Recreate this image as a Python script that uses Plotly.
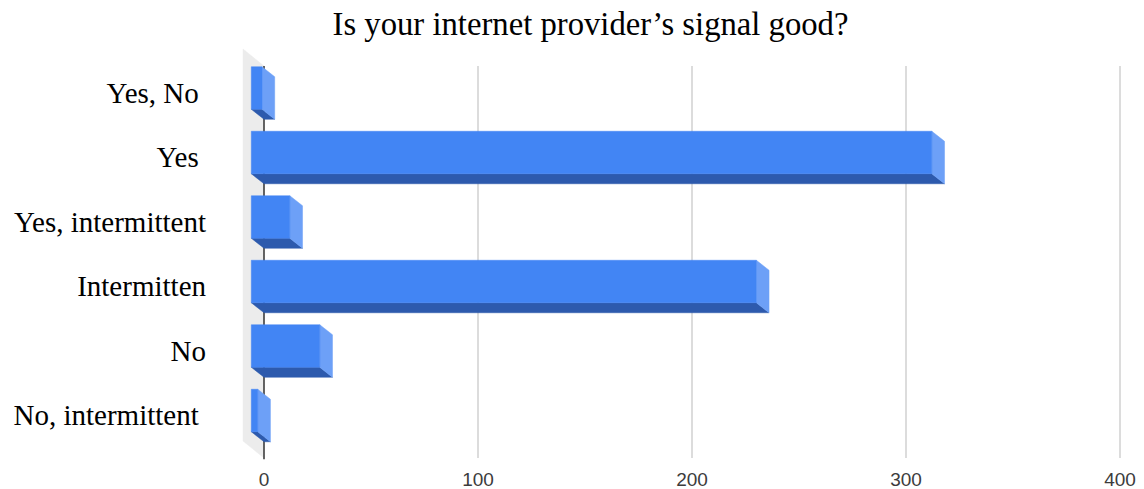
import plotly.graph_objects as go

# ---- data ----
categories = ["Yes, No ", "Yes ", "Yes, intermittent", "Intermitten", "No", "No, intermittent "]
values = [5, 318, 18, 236, 32, 3]
x_ticks = [0, 100, 200, 300, 400]
title_text = "Is your internet provider\u2019s signal good?"

# ---- style / geometry (3D look) ----
W, H = 1144, 489
PX_PER_UNIT = 2.14          # horizontal pixels per value unit
PX_PER_CAT = 64.5           # vertical pixels per category
DX = 12.7 / PX_PER_UNIT     # depth offset in value units
DY = 10.0 / PX_PER_CAT      # depth offset in category units
BAR_H = 42.5 / PX_PER_CAT   # bar thickness in category units
WALL_DX = 21.0 / PX_PER_UNIT
WALL_DY = 17.0 / PX_PER_CAT

FRONT = "#4285f4"
SIDE = "#6da0f7"
BOTTOM = "#2d5aad"
WALL = "#ececec"
GRID = "#d0d0d0"
AXIS = "#333333"

n = len(categories)
X0 = 264    # pixel x of value 0
Y0 = 98     # pixel y of first category (back face centre)
y_top_axis = (66 - Y0) / PX_PER_CAT
y_bot_axis = (458 - Y0) / PX_PER_CAT

fig = go.Figure()

def poly(xs, ys, color):
    fig.add_trace(go.Scatter(
        x=list(xs) + [xs[0]], y=list(ys) + [ys[0]],
        mode="lines", fill="toself", fillcolor=color,
        line=dict(color=color, width=0.5), hoverinfo="skip", showlegend=False))

# left wall
poly([-WALL_DX, 0, 0, -WALL_DX],
     [y_top_axis - WALL_DY, y_top_axis, y_bot_axis, y_bot_axis - WALL_DY], WALL)

# gridlines (back plane)
for t in x_ticks[1:]:
    fig.add_trace(go.Scatter(x=[t, t], y=[y_top_axis, y_bot_axis], mode="lines",
                             line=dict(color=GRID, width=1.5), hoverinfo="skip", showlegend=False))
# axis line at zero
fig.add_trace(go.Scatter(x=[0, 0], y=[y_top_axis, y_bot_axis + 0.02], mode="lines",
                         line=dict(color=AXIS, width=1.5), hoverinfo="skip", showlegend=False))

# bars
for i, v in enumerate(values):
    bt, bb = i - BAR_H / 2, i + BAR_H / 2          # back face top/bottom
    ft, fb = bt - DY, bb - DY                      # front face top/bottom
    poly([-DX, v - DX, v, 0], [fb, fb, bb, bb], BOTTOM)          # bottom face
    poly([v - DX, v, v, v - DX], [ft, bt, bb, fb], SIDE)         # right side face
    poly([-DX, v - DX, v - DX, -DX], [ft, ft, fb, fb], FRONT)    # front face

# plot area in pixels
PL, PR, PT, PB = 241, 1124, 46, 460
x_min = -(X0 - PL) / PX_PER_UNIT
x_max = (PR - X0) / PX_PER_UNIT
y_min = (PT - Y0) / PX_PER_CAT
y_max = (PB - Y0) / PX_PER_CAT
L, R, T, B = PL, W - PR, PT, H - PB

label_shift = 5.5 / PX_PER_CAT

fig.update_layout(
    width=W, height=H,
    margin=dict(l=L, r=R, t=T, b=B, pad=0, autoexpand=False),
    paper_bgcolor="white", plot_bgcolor="white",
    showlegend=False,
    title=dict(text=title_text, x=590.5 / W, xanchor="center",
               y=1 - 24 / H, yanchor="middle",
               xref="container", yref="container", automargin=False,
               font=dict(family="Liberation Serif", size=32.7, color="#000000")),
    xaxis=dict(range=[x_min, x_max], showgrid=False, zeroline=False, showline=False,
               tickvals=x_ticks, ticktext=[str(t) for t in x_ticks], ticks="",
               tickfont=dict(family="Liberation Sans", size=19, color="#3c3c3c"),
               ticklabelstandoff=6, fixedrange=True, automargin=False),
    yaxis=dict(range=[y_max, y_min], showgrid=False, zeroline=False, showline=False,
               tickvals=[i - label_shift for i in range(n)], ticktext=categories, ticks="",
               tickfont=dict(family="Liberation Serif", size=29, color="#000000"),
               ticklabelstandoff=34, fixedrange=True, automargin=False),
)

fig.write_html("out.html", config={"displayModeBar": False, "staticPlot": True},
               post_script="document.body.style.margin='0';")
